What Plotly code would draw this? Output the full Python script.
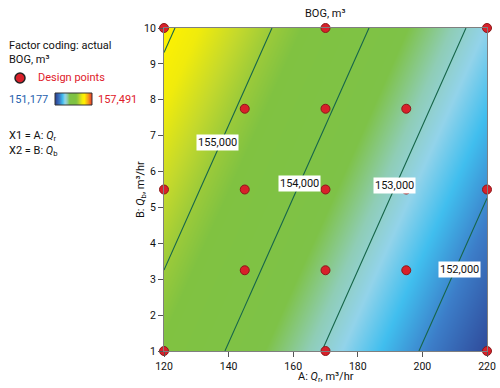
import plotly.graph_objects as go

# ---- data ----
qr_grid = [120, 145, 170, 195, 220]          # A: Qr, m3/hr
qb_grid = [1, 3.25, 5.5, 7.75, 10]           # B: Qb, m3/hr
bog = [                                      # BOG, m3  (rows follow qb_grid)
    [154628, 153796, 152963, 152131, 151298],
    [154999, 154167, 153334, 152502, 151669],
    [155370, 154538, 153705, 152873, 152040],
    [155742, 154910, 154077, 153245, 152412],
    [156113, 155281, 154448, 153616, 152783],
]
design_qr = [120, 170, 220, 145, 170, 195, 120, 145, 170, 195, 220, 145, 170, 195, 120, 170, 220]
design_qb = [1, 1, 1, 3.25, 3.25, 3.25, 5.5, 5.5, 5.5, 5.5, 5.5, 7.75, 7.75, 7.75, 10, 10, 10]
bog_min, bog_max = 151177, 157491
contour_labels = ["155,000", "154,000", "153,000", "152,000"]
label_qr = [136.7, 162.0, 191.4, 211.4]
label_qb = [6.82, 5.68, 5.62, 3.26]

W, H = 500, 388
FONT = "Roboto, Lato, sans-serif"
FS = 11

def rel(v):
    return (v - bog_min) / (bog_max - bog_min)

cscale = [
    [0.0, "#2C4494"],
    [rel(151298), "#2F4A9A"],
    [rel(151900), "#3C7DC8"],
    [rel(152400), "#40BEEE"],
    [rel(152800), "#92D3EA"],
    [rel(153150), "#8FCDB6"],
    [rel(153600), "#7EC247"],
    [rel(154700), "#80C241"],
    [rel(155000), "#9ACA3A"],
    [rel(155350), "#C4D92C"],
    [rel(155750), "#F0EB0C"],
    [rel(156100), "#FFF200"],
    [0.88, "#F7A01C"],
    [1.0, "#E8262A"],
]

fig = go.Figure()

fig.add_trace(go.Contour(
    x=qr_grid, y=qb_grid, z=bog,
    colorscale=cscale, zmin=bog_min, zmax=bog_max, showscale=False,
    contours=dict(coloring="heatmap", start=152000, end=156000, size=1000, showlabels=False),
    line=dict(color="#17664A", width=1.1),
    hoverinfo="skip",
))

fig.add_trace(go.Scatter(
    x=design_qr, y=design_qb, mode="markers",
    marker=dict(color="#D9202A", size=9, line=dict(color="#8A1A1A", width=1)),
    cliponaxis=False, showlegend=False, hoverinfo="skip",
))

# gradient swatch of the legend
fig.add_trace(go.Heatmap(
    x=[bog_min, bog_max], y=[0], z=[[bog_min, bog_max]],
    colorscale=cscale, zmin=bog_min, zmax=bog_max, showscale=False,
    zsmooth="best", xaxis="x2", yaxis="y2", hoverinfo="skip",
))

def px(x):
    return x / W

def py(y):
    return 1 - y / H

axis_common = dict(
    showgrid=False, zeroline=False, ticks="outside", ticklen=5, tickcolor="#555",
    showline=True, linecolor="#7f7f7f", linewidth=1, mirror=True,
    tickfont=dict(family=FONT, size=10.5, color="#111"), automargin=False,
    ticklabeloverflow="allow",
)

annotations = []
for t, ax_, ay_ in zip(contour_labels, label_qr, label_qb):
    annotations.append(dict(x=ax_, y=ay_, xref="x", yref="y", text=t, showarrow=False,
                            bgcolor="white", borderpad=1,
                            font=dict(family=FONT, size=FS, color="#111")))

def ptxt(text, x, y, color="#111", size=FS, xanchor="left", angle=0):
    annotations.append(dict(x=px(x), y=py(y), xref="paper", yref="paper", text=text,
                            showarrow=False, xanchor=xanchor, yanchor="middle", textangle=angle,
                            font=dict(family=FONT, size=size, color=color)))

ptxt("BOG, m³", 325, 14, xanchor="center")
ptxt("Factor coding: actual", 7, 45)
ptxt("BOG, m³", 7, 59)
ptxt("Design points", 36, 78, color="#E0202A")
ptxt("151,177", 7, 99, color="#1F5FAE")
ptxt("157,491", 96, 99, color="#E0202A")
ptxt("X1 = A: <i>Q</i><sub>r</sub>", 7, 136)
ptxt("X2 = B: <i>Q</i><sub>b</sub>", 7, 151)
ptxt("A: <i>Q</i><sub>r</sub>, m³/hr", 326, 377, xanchor="center")
ptxt("B: <i>Q</i><sub>b</sub>, m³/hr", 141, 190, xanchor="center", angle=-90)

fig.update_layout(
    width=W, height=H, margin=dict(l=0, r=0, t=0, b=0),
    paper_bgcolor="white", plot_bgcolor="white",
    font=dict(family=FONT, size=FS, color="#111"),
    xaxis=dict(domain=[px(164), px(487)], range=[120, 220], tickvals=[120, 140, 160, 180, 200, 220], **axis_common),
    yaxis=dict(domain=[py(351), py(28)], range=[1, 10], tickvals=list(range(1, 11)), **axis_common),
    xaxis2=dict(domain=[px(55), px(92)], anchor="y2", visible=False, range=[bog_min, bog_max]),
    yaxis2=dict(domain=[py(105), py(93)], anchor="x2", visible=False, range=[-0.5, 0.5]),
    annotations=annotations,
    shapes=[
        dict(type="circle", xref="paper", yref="paper",
             x0=px(15), x1=px(25), y0=py(83), y1=py(73),
             fillcolor="#D9202A", line=dict(color="#222", width=1.5)),
        dict(type="rect", xref="paper", yref="paper",
             x0=px(55), x1=px(92), y0=py(105), y1=py(93),
             line=dict(color="#333", width=1)),
    ],
)

fig.write_html(
    "out.html",
    config={"displayModeBar": False, "staticPlot": True},
    post_script="document.body.style.margin='0';document.documentElement.style.overflow='hidden';document.body.style.overflow='hidden';",
)
